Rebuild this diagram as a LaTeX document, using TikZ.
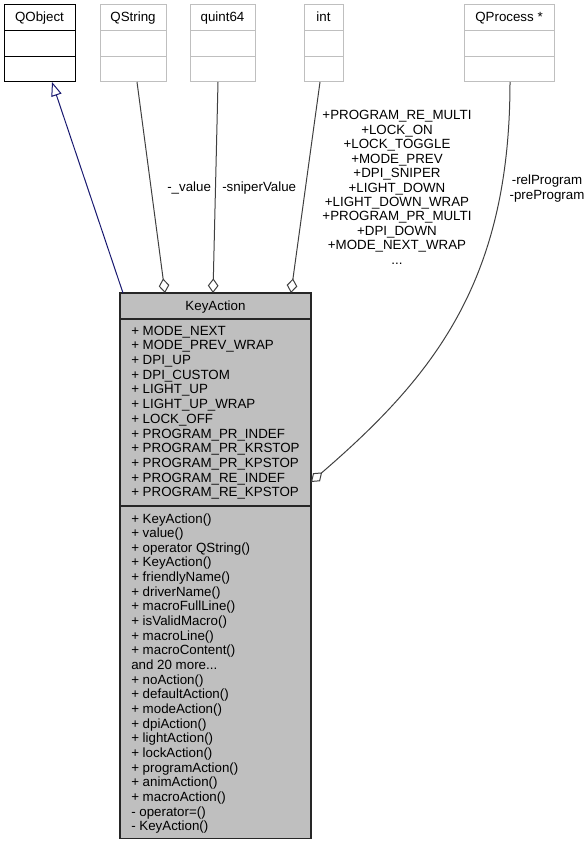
\documentclass[tikz,border=0pt]{standalone}
\usepackage{fontspec}
\setmainfont{Liberation Sans}
\usetikzlibrary{arrows.meta,calc}
\definecolor{edgegray}{HTML}{404040}
\definecolor{boxgray}{HTML}{BFBFBF}
\definecolor{navyline}{HTML}{191970}
\tikzset{
  cls/.style={draw=black, line width=0.75pt, fill=white, rectangle, inner sep=0pt, outer sep=0pt, anchor=north west},
  extcls/.style={cls, draw=boxgray},
  mainbox/.style={cls, fill=boxgray, draw=black!85, line width=1pt},
  lbl/.style={font=\fontsize{10pt}{12pt}\selectfont, inner sep=0pt},
  member/.style={lbl, anchor=base west},
  sepline/.style={line width=0.75pt},
  inherit/.style={draw=navyline, line width=0.75pt, -{Triangle[open,length=10.5pt,width=8pt]}},
  aggr/.style={draw=edgegray, line width=0.75pt, -{Diamond[open,length=11pt,width=8pt]}},
}
\begin{document}
\begin{tikzpicture}[x=0.75pt,y=-0.75pt]
\useasboundingbox (0,0) rectangle (587,845);

% top classes
\node[cls, minimum width={71*0.75pt}, minimum height={77*0.75pt}] (qobject) at (4,5) {};
\node[extcls, minimum width={66*0.75pt}, minimum height={77*0.75pt}] (qstring) at (100,5) {};
\node[extcls, minimum width={65*0.75pt}, minimum height={77*0.75pt}] (quint) at (190,5) {};
\node[extcls, minimum width={39*0.75pt}, minimum height={77*0.75pt}] (int) at (304,5) {};
\node[extcls, minimum width={90*0.75pt}, minimum height={77*0.75pt}] (qproc) at (464,5) {};

\draw[sepline, black] ($(qobject.north west)+(0,26)$) -- ($(qobject.north east)+(0,26)$);
\draw[sepline, black] ($(qobject.north west)+(0,52)$) -- ($(qobject.north east)+(0,52)$);
\foreach \n in {qstring,quint,int,qproc}{
  \draw[sepline, boxgray] ($(\n.north west)+(0,26)$) -- ($(\n.north east)+(0,26)$);
  \draw[sepline, boxgray] ($(\n.north west)+(0,52)$) -- ($(\n.north east)+(0,52)$);
}

\node[lbl, anchor=base] (qobject-t) at ($(qobject.north)+(0,17)$) {QObject};
\node[lbl, anchor=base] (qstring-t) at ($(qstring.north)+(0,17)$) {QString};
\node[lbl, anchor=base] (quint-t) at ($(quint.north)+(0,17)$) {quint64};
\node[lbl, anchor=base] (int-t) at ($(int.north)+(0,17)$) {int};
\node[lbl, anchor=base] (qproc-t) at ($(qproc.north)+(0,17)$) {QProcess *};

% main class
\node[mainbox, minimum width={191*0.75pt}, minimum height={545.5*0.75pt}] (ka) at (120,293) {};
\draw[sepline, black!85, line width=1pt] ($(ka.north west)+(0,26)$) -- ($(ka.north east)+(0,26)$);
\draw[sepline, black!85, line width=1pt] ($(ka.north west)+(0,213)$) -- ($(ka.north east)+(0,213)$);
\node[lbl, anchor=base] (ka-t) at ($(ka.north)+(0,17)$) {KeyAction};

\foreach \t [count=\i from 0] in {+ MODE\_NEXT, + MODE\_PREV\_WRAP, + DPI\_UP, + DPI\_CUSTOM, + LIGHT\_UP, + LIGHT\_UP\_WRAP, + LOCK\_OFF, + PROGRAM\_PR\_INDEF, + PROGRAM\_PR\_KRSTOP, + PROGRAM\_PR\_KPSTOP, + PROGRAM\_RE\_INDEF, + PROGRAM\_RE\_KPSTOP}{
  \node[member] (attr\i) at ($(ka.north west)+(11,42+14.72*\i)$) {\t};
}
\foreach \t [count=\i from 0] in {+ KeyAction(), + value(), + operator QString(), + KeyAction(), + friendlyName(), + driverName(), + macroFullLine(), + isValidMacro(), + macroLine(), + macroContent(), {and 20 more{.}{.}{.}}, + noAction(), + defaultAction(), + modeAction(), + dpiAction(), + lightAction(), + lockAction(), + programAction(), + animAction(), + macroAction(), - operator=(), - KeyAction()}{
  \node[member] (meth\i) at ($(ka.north west)+(11,230+14.65*\i)$) {\t};
}

% connectors
\draw[inherit] ($(ka.north west)+(3,0)$) -- ($(qobject.south west)+(48,0)$);
\draw[aggr] ($(qstring.south west)+(37,0)$) -- ($(ka.north west)+(45,0)$);
\draw[aggr] ($(quint.south west)+(28,0)$) -- ($(ka.north west)+(93,0)$);
\draw[aggr] ($(int.south west)+(16,0)$) -- ($(ka.north west)+(171,0)$);
\draw[aggr] ($(qproc.south west)+(46,0)$) .. controls +(0,198) and ($(ka.north east)+(124,82)$) .. ($(ka.north east)+(0,189)$);

% edge labels
\node[member] (lv) at (167,191) {-\_value};
\node[member] (ls) at (222,191) {-sniperValue};
\node[lbl, anchor=base] (lr) at (547,185) {-relProgram};
\node[lbl, anchor=base] (lp) at (547,199) {-preProgram};
\foreach \t [count=\i from 0] in {+PROGRAM\_RE\_MULTI, +LOCK\_ON, +LOCK\_TOGGLE, +MODE\_PREV, +DPI\_SNIPER, +LIGHT\_DOWN, +LIGHT\_DOWN\_WRAP, +PROGRAM\_PR\_MULTI, +DPI\_DOWN, +MODE\_NEXT\_WRAP, {{.}{.}{.}}}{
  \node[lbl, anchor=base] (il\i) at (397,120+14.4*\i) {\t};
}
\end{tikzpicture}
\end{document}
